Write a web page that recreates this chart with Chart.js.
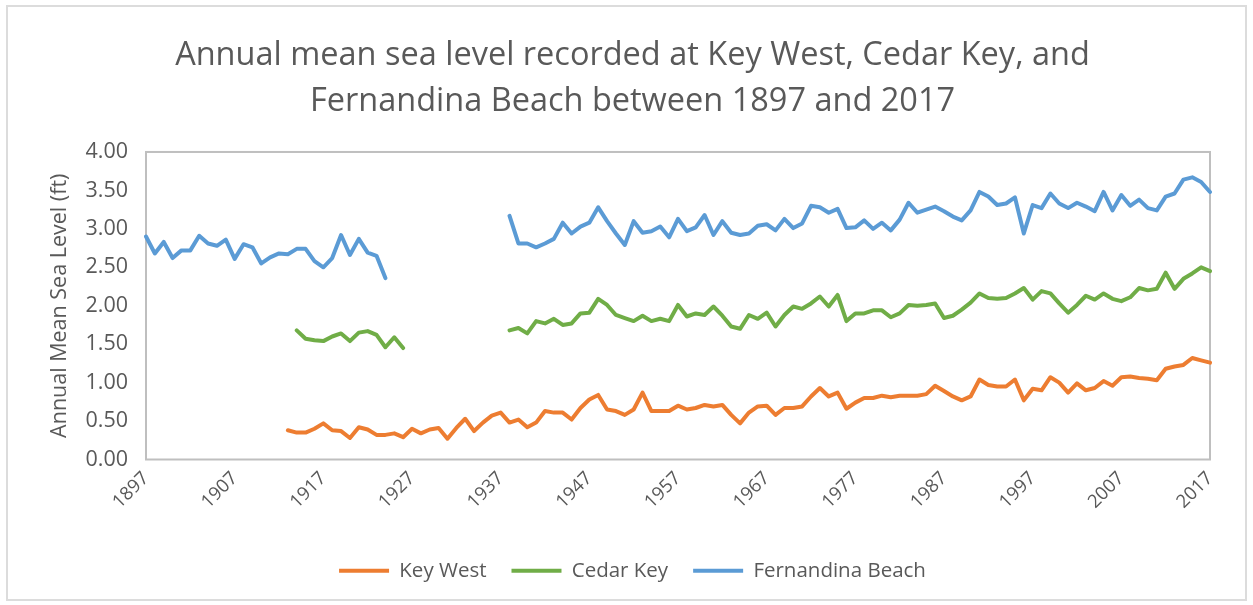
<!DOCTYPE html>
<html>
<head>
<meta charset="utf-8">
<script src="https://cdn.jsdelivr.net/npm/chart.js@4/dist/chart.umd.min.js"></script>
<style>
  html, body { margin: 0; padding: 0; background: #fff; }
  #wrap { width: 1253px; height: 605px; position: relative; }
</style>
</head>
<body>
<div id="wrap"><canvas id="seaLevelChart"></canvas></div>
<script>
// years on the x axis (one category per year)
const firstYear = 1897;
const lastYear = 2017;
const years = [];
for (let y = firstYear; y <= lastYear; y++) years.push(String(y));

// annual mean sea level (ft), null = no record
const keyWest = [
  null, null, null, null, null, null, null, null, null, null, // 1897-1906
  null, null, null, null, null, null,                         // 1907-1912
  0.38, 0.35, 0.35, 0.40, 0.47, 0.38, 0.37, 0.28, 0.42, 0.39, // 1913-1922
  0.32, 0.32, 0.34, 0.29, 0.40, 0.34, 0.39, 0.41, 0.27, 0.41, // 1923-1932
  0.53, 0.37, 0.48, 0.57, 0.61, 0.48, 0.52, 0.42, 0.48, 0.63, // 1933-1942
  0.61, 0.61, 0.52, 0.67, 0.78, 0.84, 0.65, 0.63, 0.58, 0.65, // 1943-1952
  0.87, 0.63, 0.63, 0.63, 0.70, 0.65, 0.67, 0.71, 0.69, 0.71, // 1953-1962
  0.58, 0.47, 0.61, 0.69, 0.70, 0.58, 0.67, 0.67, 0.69, 0.82, // 1963-1972
  0.93, 0.82, 0.87, 0.66, 0.74, 0.80, 0.80, 0.83, 0.81, 0.83, // 1973-1982
  0.83, 0.83, 0.85, 0.96, 0.89, 0.82, 0.77, 0.82, 1.04, 0.97, // 1983-1992
  0.95, 0.95, 1.04, 0.77, 0.92, 0.90, 1.07, 1.00, 0.87, 0.99, // 1993-2002
  0.90, 0.93, 1.02, 0.96, 1.07, 1.08, 1.06, 1.05, 1.03, 1.18, // 2003-2012
  1.21, 1.23, 1.32, 1.29, 1.26                                // 2013-2017
];

const cedarKey = [
  null, null, null, null, null, null, null, null, null, null, // 1897-1906
  null, null, null, null, null, null, null,                   // 1907-1913
  1.68, 1.57, 1.55, 1.54, 1.60, 1.64, 1.54, 1.65, 1.67, 1.62, // 1914-1923
  1.46, 1.59, 1.45,                                           // 1924-1926
  null, null, null, null, null, null, null, null, null, null, null, // 1927-1937
  1.68, 1.71, 1.64, 1.80, 1.77, 1.83, 1.75, 1.77, 1.90, 1.91, // 1938-1947
  2.09, 2.01, 1.88, 1.84, 1.80, 1.87, 1.80, 1.83, 1.80, 2.01, // 1948-1957
  1.86, 1.90, 1.88, 1.99, 1.87, 1.73, 1.70, 1.88, 1.83, 1.91, // 1958-1967
  1.73, 1.88, 1.99, 1.96, 2.03, 2.12, 1.99, 2.14, 1.80, 1.90, // 1968-1977
  1.90, 1.94, 1.94, 1.85, 1.90, 2.01, 2.00, 2.01, 2.03, 1.84, // 1978-1987
  1.87, 1.95, 2.04, 2.16, 2.10, 2.09, 2.10, 2.16, 2.23, 2.08, // 1988-1997
  2.19, 2.16, 2.03, 1.91, 2.01, 2.13, 2.08, 2.16, 2.09, 2.06, // 1998-2007
  2.11, 2.23, 2.20, 2.22, 2.43, 2.22, 2.35, 2.42, 2.50, 2.45  // 2008-2017
];

const fernandinaBeach = [
  2.90, 2.68, 2.83, 2.62, 2.72, 2.72, 2.91, 2.81, 2.78, 2.86, // 1897-1906
  2.61, 2.80, 2.76, 2.55, 2.63, 2.68, 2.67, 2.74, 2.74, 2.58, // 1907-1916
  2.50, 2.62, 2.92, 2.66, 2.87, 2.69, 2.65, 2.36,             // 1917-1924
  null, null, null, null, null, null, null, null, null, null, null, null, null, // 1925-1937
  3.17, 2.81, 2.81, 2.76, 2.81, 2.87, 3.08, 2.94, 3.03, 3.08, // 1938-1947
  3.28, 3.10, 2.94, 2.79, 3.10, 2.95, 2.97, 3.03, 2.89, 3.13, // 1948-1957
  2.97, 3.02, 3.18, 2.92, 3.10, 2.95, 2.92, 2.94, 3.04, 3.06, // 1958-1967
  2.98, 3.13, 3.01, 3.07, 3.30, 3.28, 3.21, 3.26, 3.01, 3.02, // 1968-1977
  3.11, 3.00, 3.08, 2.98, 3.12, 3.34, 3.21, 3.25, 3.29, 3.23, // 1978-1987
  3.16, 3.11, 3.24, 3.48, 3.42, 3.31, 3.33, 3.41, 2.94, 3.31, // 1988-1997
  3.27, 3.46, 3.33, 3.27, 3.34, 3.29, 3.23, 3.48, 3.24, 3.44, // 1998-2007
  3.30, 3.38, 3.27, 3.24, 3.42, 3.46, 3.64, 3.67, 3.61, 3.48  // 2008-2017
];

const seriesNames = ['Key West', 'Cedar Key', 'Fernandina Beach'];
const seriesColors = ['#ED7D31', '#70AD47', '#5B9BD5'];
const yTicks = [0, 0.5, 1, 1.5, 2, 2.5, 3, 3.5, 4];

const textGrey = '#595959';
const fontFamily = '"Open Sans", "Noto Sans", sans-serif';

// white page with a faint frame, plus the grey plot-area box
const framePlugin = {
  id: 'frame',
  beforeDraw(chart) {
    const ctx = chart.ctx;
    ctx.save();
    ctx.fillStyle = '#ffffff';
    ctx.fillRect(0, 0, chart.width, chart.height);
    ctx.strokeStyle = '#dcdcdc';
    ctx.lineWidth = 2;
    ctx.strokeRect(7, 6, chart.width - 14, chart.height - 11);
    ctx.restore();
  },
  beforeDatasetsDraw(chart) {
    const a = chart.chartArea;
    const ctx = chart.ctx;
    ctx.save();
    ctx.strokeStyle = '#bfbfbf';
    ctx.lineWidth = 2;
    ctx.strokeRect(a.left, a.top, a.right - a.left, a.bottom - a.top);
    ctx.restore();
  }
};

const allSeries = [keyWest, cedarKey, fernandinaBeach];

var ctx = document.getElementById('seaLevelChart').getContext('2d');
window.seaLevelChart = new Chart(ctx, {
  type: 'line',
  data: {
    labels: years,
    datasets: allSeries.map((vals, i) => ({
      label: seriesNames[i],
      data: vals,
      borderColor: seriesColors[i],
      backgroundColor: seriesColors[i],
      borderWidth: 4,
      borderCapStyle: 'round',
      borderJoinStyle: 'round',
      pointRadius: 0,
      tension: 0,
      spanGaps: false
    }))
  },
  options: {
    responsive: true,
    maintainAspectRatio: false,
    animation: false,
    layout: { padding: { left: 55, right: 43, top: 0, bottom: 14 } },
    plugins: {
      title: {
        display: true,
        text: ['Annual mean sea level recorded at Key West, Cedar Key, and',
               'Fernandina Beach between 1897 and 2017'],
        color: textGrey,
        font: { family: fontFamily, size: 32.5, weight: 'normal', lineHeight: 1.415 },
        padding: { top: 33, bottom: 27 }
      },
      legend: {
        position: 'bottom',
        labels: {
          color: textGrey,
          font: { family: fontFamily, size: 20.5 },
          usePointStyle: true,
          pointStyle: 'line',
          pointStyleWidth: 50,
          padding: 25
        }
      },
      tooltip: { enabled: false }
    },
    scales: {
      x: {
        offset: false,
        grid: { display: false, drawTicks: false },
        border: { display: false },
        ticks: {
          autoSkip: false,
          maxRotation: 45,
          minRotation: 45,
          padding: 8,
          color: textGrey,
          font: { family: fontFamily, size: 18.5 },
          callback: function (val, idx) {
            return (idx % 10 === 0) ? years[idx] : '';
          }
        },
        afterFit: function (scale) { scale.height = 76; }
      },
      y: {
        min: 0,
        max: 4,
        grid: { display: false, drawTicks: false },
        border: { display: false },
        afterBuildTicks: function (scale) {
          scale.ticks = yTicks.map(v => ({ value: v }));
        },
        ticks: {
          padding: 18,
          color: textGrey,
          font: { family: fontFamily, size: 21.5 },
          callback: v => v.toFixed(2)
        },
        title: {
          display: true,
          text: 'Annual Mean Sea Level (ft)',
          color: textGrey,
          font: { family: fontFamily, size: 21.5 },
          padding: { top: -8, bottom: 0 }
        },
        afterFit: function (scale) { scale.width = 91; }
      }
    }
  },
  plugins: [framePlugin]
});
</script>
</body>
</html>
